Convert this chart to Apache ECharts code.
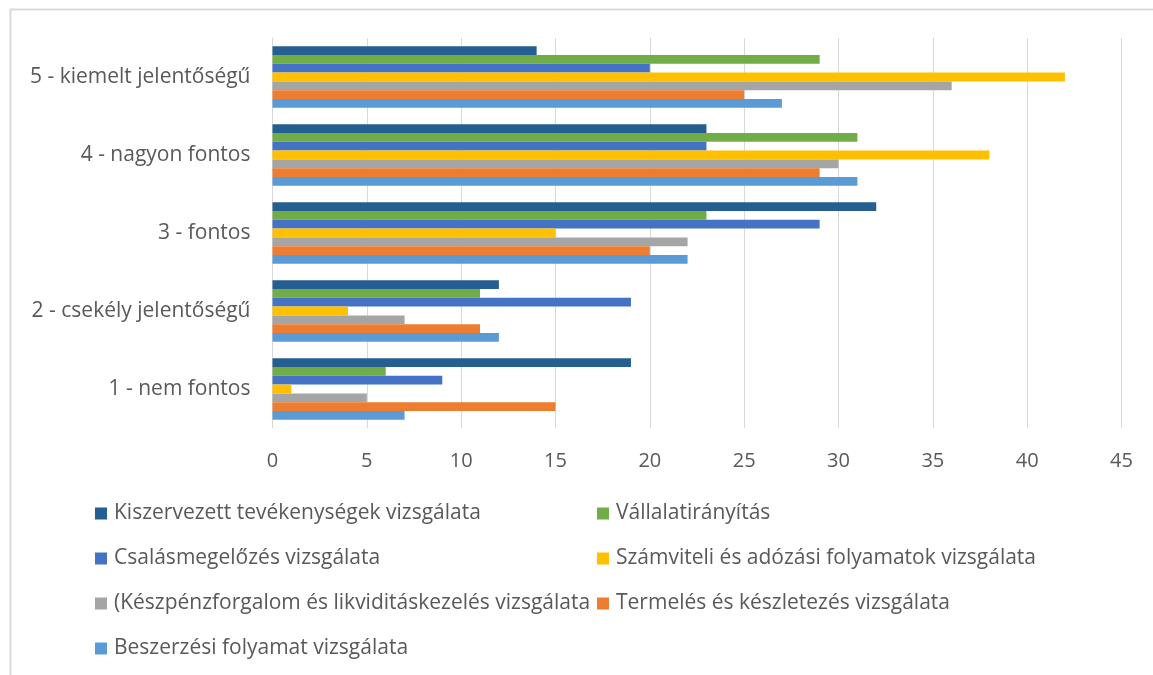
<!DOCTYPE html>
<html>
<head>
<meta charset="utf-8">
<script src="https://cdn.jsdelivr.net/npm/echarts@6/dist/echarts.min.js"></script>
<style>
html,body{margin:0;padding:0;background:#fff;}
#c{width:1153px;height:675px;}
</style>
</head>
<body>
<div id="c"></div>
<script>
// Categories (bottom to top)
var categories = ['1 - nem fontos', '2 - csekély jelentőségű', '3 - fontos', '4 - nagyon fontos', '5 - kiemelt jelentőségű'];

// Series names (legend order)
var seriesNames = [
  'Kiszervezett tevékenységek vizsgálata',
  'Vállalatirányítás',
  'Csalásmegelőzés vizsgálata',
  'Számviteli és adózási folyamatok vizsgálata',
  '(Készpénzforgalom és likviditáskezelés vizsgálata',
  'Termelés és készletezés vizsgálata',
  'Beszerzési folyamat vizsgálata'
];

// Values per series, in category order (1 ... 5)
var kiszervezett = [19, 12, 32, 23, 14];
var vallalatiranyitas = [6, 11, 23, 31, 29];
var csalasmegelozes = [9, 19, 29, 23, 20];
var szamviteli = [1, 4, 15, 38, 42];
var keszpenzforgalom = [5, 7, 22, 30, 36];
var termeles = [15, 11, 20, 29, 25];
var beszerzesi = [7, 12, 22, 31, 27];

var xTicks = [0, 5, 10, 15, 20, 25, 30, 35, 40, 45];

var colors = ['#255E91', '#70AD47', '#4472C4', '#FFC000', '#A5A5A5', '#ED7D31', '#5B9BD5'];
var values = [kiszervezett, vallalatiranyitas, csalasmegelozes, szamviteli, keszpenzforgalom, termeles, beszerzesi];

var FONT = '"Open Sans", sans-serif';
var TXT = '#595959';

// First series is drawn at the top of each group
var series = seriesNames.map(function (n, i) {
  return {
    name: n,
    type: 'bar',
    data: values[i],
    itemStyle: { color: colors[i] },
    barGap: '0%',
    barCategoryGap: '21%',
    emphasis: { disabled: true }
  };
});

// Legend: two columns
var legendPos = [
  [95, 503], [597, 503],
  [95, 548], [597, 548],
  [95, 593], [597, 593],
  [95, 638]
];
var legends = seriesNames.map(function (n, i) {
  return {
    data: [{ name: n, icon: 'rect' }],
    left: legendPos[i][0],
    top: legendPos[i][1],
    itemWidth: 12,
    itemHeight: 12,
    itemGap: 0,
    padding: 0,
    selectedMode: false,
    textStyle: { color: TXT, fontSize: 21, fontFamily: FONT, lineHeight: 20, padding: [0, 0, 0, 2] }
  };
});

var chart = echarts.init(document.getElementById('c'), null, { renderer: 'canvas' });
chart.setOption({
  animation: false,
  backgroundColor: '#ffffff',
  color: colors,
  graphic: [{
    type: 'rect',
    shape: { x: 10.5, y: 9.5, width: 1300, height: 800 },
    style: { fill: 'none', stroke: '#d9d9d9', lineWidth: 2 },
    silent: true
  }],
  grid: { left: 272.5, top: 38, width: 849, height: 390, containLabel: false },
  legend: legends,
  xAxis: {
    type: 'value',
    min: 0,
    max: 45,
    interval: 5,
    axisLine: { show: false },
    axisTick: { show: false },
    splitLine: { show: true, lineStyle: { color: '#d9d9d9', width: 1 } },
    axisLabel: {
      color: TXT, fontSize: 20, fontFamily: FONT, margin: 23,
      formatter: function (v) { return xTicks.indexOf(v) >= 0 ? String(v) : ''; }
    }
  },
  yAxis: {
    type: 'category',
    data: categories,
    axisLine: { show: true, lineStyle: { color: '#d9d9d9', width: 1 } },
    axisTick: { show: false },
    splitLine: { show: false },
    axisLabel: { color: TXT, fontSize: 21, fontFamily: FONT, margin: 22 }
  },
  series: series
});
</script>
</body>
</html>
